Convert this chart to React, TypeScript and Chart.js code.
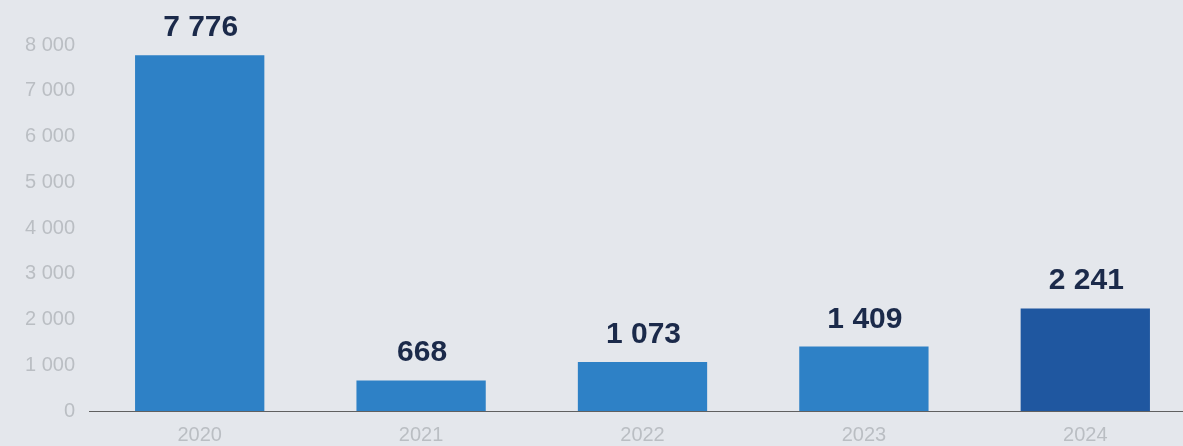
import React, { useEffect, useRef } from "react";
import { Chart, registerables } from "chart.js";

Chart.register(...registerables);

const categories = ["2020", "2021", "2022", "2023", "2024"];
const values = [7776, 668, 1073, 1409, 2241];
const barColors = ["#2e81c6", "#2e81c6", "#2e81c6", "#2e81c6", "#1f57a0"];
const yTicks = [0, 1000, 2000, 3000, 4000, 5000, 6000, 7000, 8000];

const fmt = (v: number) => String(Math.round(v)).replace(/\B(?=(\d{3})+(?!\d))/g, " ");

const FONT = "'Liberation Sans', Arial, Helvetica, sans-serif";

const labelPlugin = {
  id: "valueLabels",
  afterDatasetsDraw(chart: any) {
    const ctx = chart.ctx;
    const meta = chart.getDatasetMeta(0);
    ctx.save();
    ctx.font = `bold 30px ${FONT}`;
    ctx.fillStyle = "#1b2a4a";
    ctx.textAlign = "center";
    ctx.textBaseline = "alphabetic";
    meta.data.forEach((bar: any, i: number) => {
      ctx.fillText(fmt(values[i]), bar.x + 1, bar.y - 19);
    });
    ctx.restore();
  },
};

export default function App() {
  const ref = useRef<HTMLCanvasElement>(null);
  useEffect(() => {
    document.body.style.margin = "0";
    document.body.style.background = "#e4e7ec";
    const chart = new Chart(ref.current!, {
      type: "bar",
      data: {
        labels: categories,
        datasets: [
          {
            data: values,
            backgroundColor: barColors,
            categoryPercentage: 1,
            barPercentage: 0.584,
          },
        ],
      },
      options: {
        responsive: false,
        animation: false,
        devicePixelRatio: 1,
        layout: { padding: { top: 45, right: 4, left: 0, bottom: 0 } },
        plugins: { legend: { display: false }, tooltip: { enabled: false } },
        scales: {
          x: {
            grid: { display: false, drawTicks: false },
            border: { display: true, color: "#606060", width: 1 },
            ticks: { color: "#babec3", font: { size: 20, family: FONT }, padding: 12 },
            afterFit: (s: any) => {
              s.height = 35;
            },
          },
          y: {
            min: 0,
            max: 8000,
            afterBuildTicks: (s: any) => {
              s.ticks = yTicks.map((v) => ({ value: v }));
            },
            grid: { display: false, drawTicks: false },
            border: { display: false },
            ticks: {
              color: "#babec3",
              font: { size: 20, family: FONT },
              padding: 14,
              callback: (v: any) => fmt(Number(v)),
            },
            afterFit: (s: any) => {
              s.width = 89;
            },
          },
        },
      },
      plugins: [labelPlugin],
    });
    return () => chart.destroy();
  }, []);
  return (
    <div style={{ width: 1183, height: 446, overflow: "hidden", background: "#e4e7ec" }}>
      <canvas ref={ref} width={1200} height={446} style={{ display: "block" }} />
    </div>
  );
}
